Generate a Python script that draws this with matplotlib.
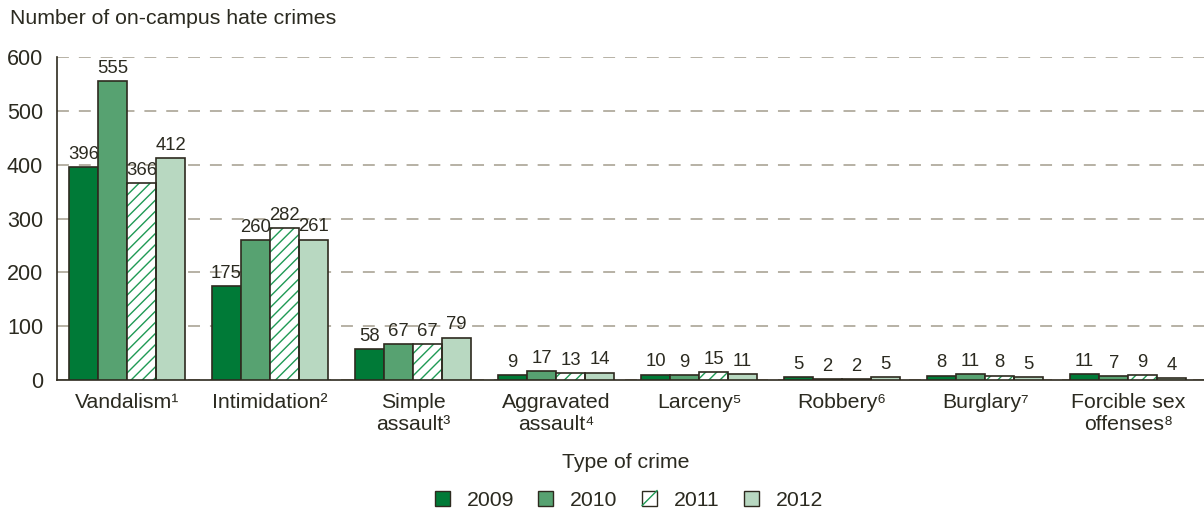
import numpy as np
import matplotlib
matplotlib.use("Agg")
import matplotlib.pyplot as plt
from matplotlib.patches import Patch, Rectangle
from matplotlib.lines import Line2D
from matplotlib.legend_handler import HandlerBase

plt.rcParams['font.family'] = ['Liberation Sans', 'DejaVu Sans']
plt.rcParams['hatch.linewidth'] = 1.0

#### data
categories = ["Vandalism¹", "Intimidation²", "Simple\nassault³", "Aggravated\nassault⁴",
              "Larceny⁵", "Robbery⁶", "Burglary⁷", "Forcible sex\noffenses⁸"]
years = ["2009", "2010", "2011", "2012"]
v2009 = [396, 175, 58, 9, 10, 5, 8, 11]
v2010 = [555, 260, 67, 17, 9, 2, 11, 7]
v2011 = [366, 282, 67, 13, 15, 2, 8, 9]
v2012 = [412, 261, 79, 14, 11, 5, 5, 4]
yticks = [0, 100, 200, 300, 400, 500, 600]

series = [v2009, v2010, v2011, v2012]
colors = ["#007a37", "#57a271", "white", "#b8d8c1"]
edge = "#2e2a1f"
hatch_col = "#1f9a55"
txt = "#2b2a20"


class Handler2011(HandlerBase):
    # white square with one green diagonal, as in the reference legend
    def create_artists(self, legend, orig_handle, xdescent, ydescent, width, height, fontsize, trans):
        r = Rectangle((-xdescent, -ydescent), width, height, facecolor="white",
                      edgecolor=edge, linewidth=1.0, transform=trans)
        l = Line2D([-xdescent, -xdescent + width], [-ydescent, -ydescent + height],
                   color=hatch_col, linewidth=1.0, transform=trans)
        return [r, l]


fig = plt.figure(figsize=(12.04, 5.15), dpi=100)
ax = fig.add_axes([0.0473, 0.262, 0.9527, 0.627])

x = np.arange(len(categories))
w = 0.203
for i, vals in enumerate(series):
    pos = x + (i - 1.5) * w
    if years[i] == "2011":
        # hatch in green, outline drawn separately in dark
        ax.bar(pos, vals, w, color="white", edgecolor=hatch_col, hatch="///", linewidth=0, zorder=3)
        ax.bar(pos, vals, w, fill=False, edgecolor=edge, linewidth=1.2, zorder=4)
    else:
        ax.bar(pos, vals, w, color=colors[i], edgecolor=edge, linewidth=1.2, zorder=3)
    for p, v in zip(pos, vals):
        ax.text(p, v + 8, str(v), ha="center", va="bottom", fontsize=13.3, color=txt)

ax.set_xlim(-0.49, 7.53)
ax.set_ylim(0, 600)
ax.set_yticks(yticks)
ax.set_xticks(x)
ax.set_xticklabels(categories, fontsize=15.3, color=txt, linespacing=1.2, va="top")
ax.tick_params(axis="both", length=0)
ax.tick_params(axis="x", pad=9)
ax.tick_params(axis="y", pad=10, labelsize=15.5, labelcolor=txt)

ax.grid(axis="y", linestyle=(0, (7.8, 6.5)), color="#a39d8d", linewidth=1.1, zorder=0)
for s in ["top", "right"]:
    ax.spines[s].set_visible(False)
ax.spines["left"].set_color(edge)
ax.spines["bottom"].set_color(edge)
ax.spines["left"].set_linewidth(1.2)
ax.spines["bottom"].set_linewidth(1.2)

fig.text(10 / 1204, 1 - 18 / 515, "Number of on-campus hate crimes", fontsize=15.3,
         color=txt, ha="left", va="center")
fig.text(626 / 1204, 1 - 462 / 515, "Type of crime", fontsize=15.3, color=txt,
         ha="center", va="center")

handles = []
for i, yr in enumerate(years):
    if yr == "2011":
        handles.append(Patch(facecolor="white", edgecolor=edge))
    else:
        handles.append(Patch(facecolor=colors[i], edgecolor=edge, linewidth=1.0))
leg = fig.legend(handles, years, loc="center", bbox_to_anchor=(629 / 1204, 1 - 500 / 515),
                 ncol=4, frameon=False, fontsize=15.3, handlelength=0.7, handleheight=0.7,
                 columnspacing=1.15, handletextpad=0.8,
                 handler_map={handles[2]: Handler2011()})
for t in leg.get_texts():
    t.set_color(txt)

fig.savefig("out.png", dpi=100)
